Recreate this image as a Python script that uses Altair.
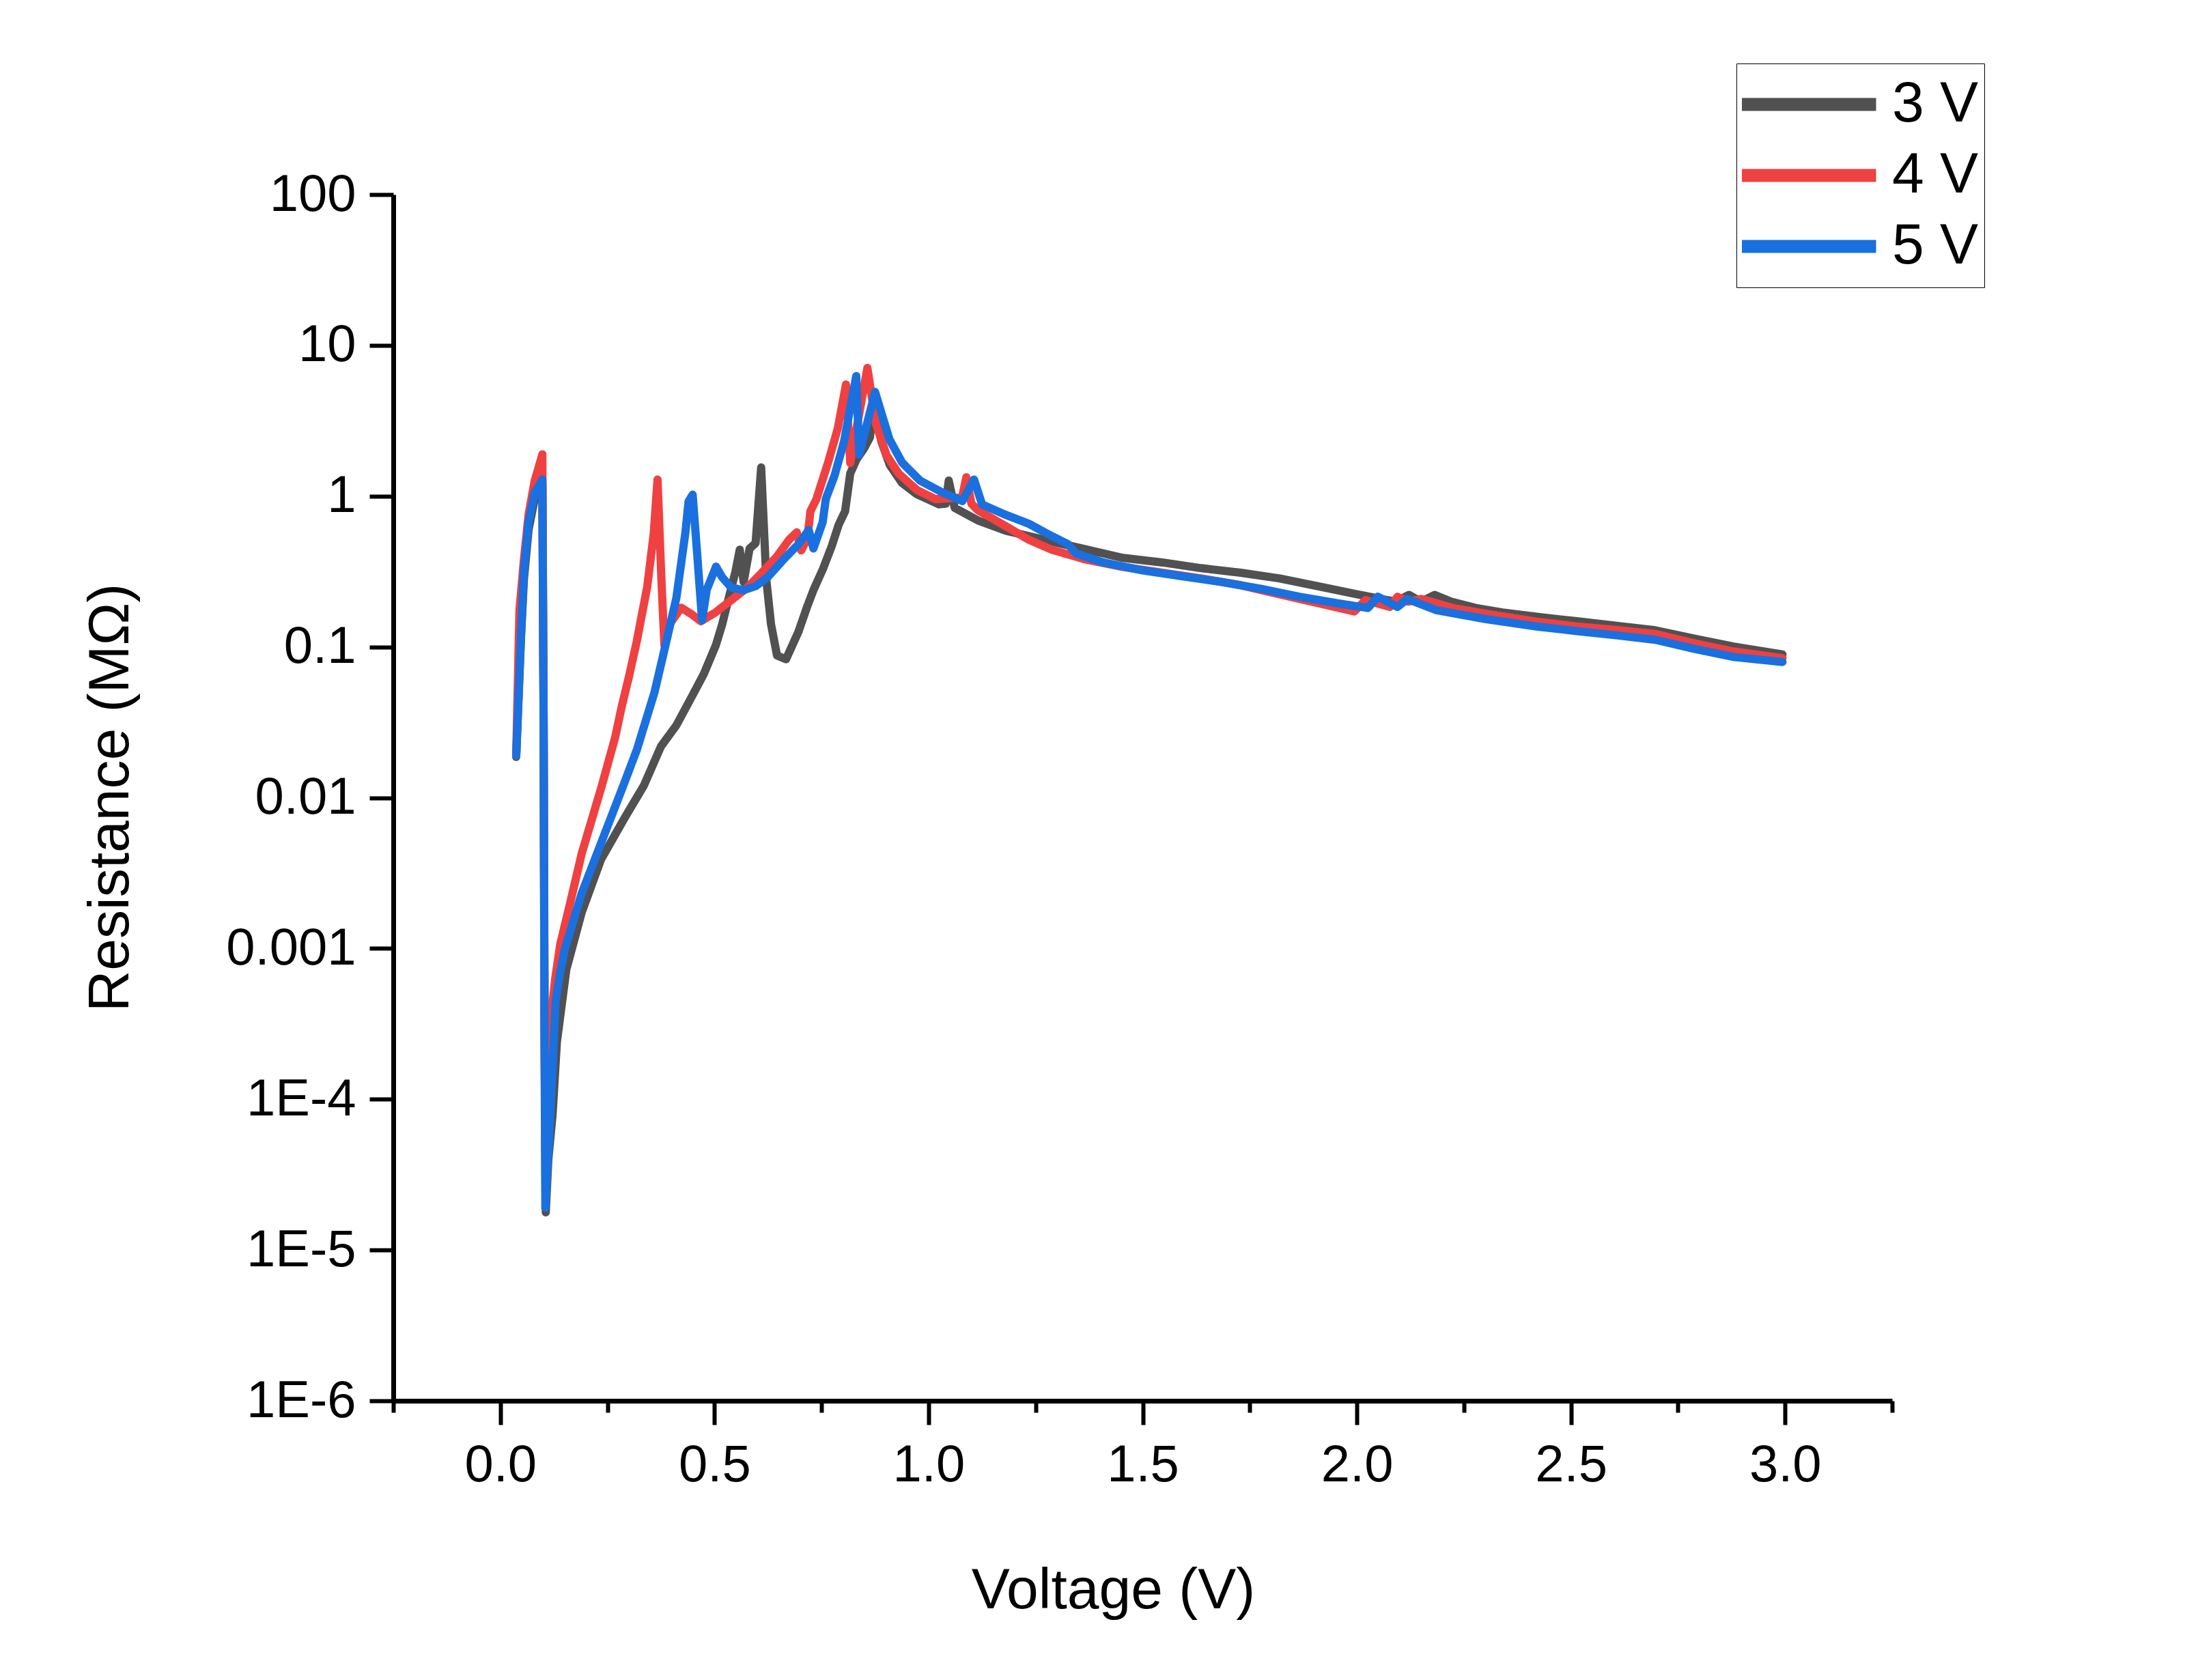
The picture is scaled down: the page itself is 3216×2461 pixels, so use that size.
import altair as alt
import pandas as pd

# ---- data (voltage in V, log10 of resistance in MOhm) ----
series_names = ["3 V", "4 V", "5 V"]
series_colors = ["#515151", "#EF4141", "#1A70DE"]

pts_3v = [(0.037,-1.73),(0.048,-0.95),(0.055,-0.55),(0.066,-0.22),(0.080,-0.02),(0.098,0.08),
          (0.101,-1.5),(0.103,-3.5),(0.106,-4.75),(0.112,-4.4),(0.122,-4.1),(0.132,-3.62),
          (0.154,-3.14),(0.19,-2.76),(0.235,-2.41),(0.291,-2.13),(0.335,-1.92),(0.375,-1.66),
          (0.411,-1.52),(0.447,-1.33),(0.475,-1.18),(0.503,-0.99),(0.518,-0.85),(0.532,-0.69),
          (0.549,-0.50),(0.559,-0.355),(0.568,-0.57),(0.582,-0.347),(0.596,-0.312),(0.609,0.19),
          (0.621,-0.554),(0.632,-0.849),(0.646,-1.057),(0.667,-1.082),(0.696,-0.90),(0.717,-0.728),
          (0.731,-0.624),(0.753,-0.485),(0.774,-0.33),(0.790,-0.19),(0.805,-0.10),(0.817,0.15),
          (0.831,0.24),(0.850,0.32),(0.863,0.39),(0.872,0.60),(0.89,0.36),(0.909,0.208),
          (0.938,0.087),(0.973,0.012),(1.024,-0.055),(1.040,-0.05),(1.047,0.103),(1.061,-0.078),
          (1.115,-0.161),(1.18,-0.229),(1.271,-0.29),(1.363,-0.35),(1.454,-0.41),(1.546,-0.44),
          (1.637,-0.478),(1.729,-0.508),(1.82,-0.546),(1.912,-0.599),(2.003,-0.652),(2.09,-0.70),
          (2.122,-0.655),(2.15,-0.70),(2.182,-0.655),(2.22,-0.70),(2.278,-0.742),(2.34,-0.772),
          (2.42,-0.80),(2.514,-0.83),(2.606,-0.86),(2.697,-0.89),(2.789,-0.946),(2.88,-0.998),
          (2.994,-1.05)]

pts_4v = [(0.037,-1.72),(0.0445,-0.76),(0.055,-0.42),(0.066,-0.12),(0.080,0.10),(0.098,0.277),
          (0.101,-1.5),(0.104,-4.0),(0.107,-4.3),(0.112,-3.9),(0.117,-3.5),(0.128,-3.2),
          (0.14,-2.97),(0.162,-2.71),(0.19,-2.37),(0.237,-1.92),(0.268,-1.60),(0.283,-1.40),
          (0.300,-1.20),(0.318,-0.97),(0.343,-0.60),(0.358,-0.25),(0.367,0.11),(0.376,-0.55),
          (0.383,-0.99),(0.395,-0.85),(0.422,-0.74),(0.445,-0.78),(0.468,-0.83),(0.503,-0.77),
          (0.539,-0.69),(0.575,-0.61),(0.61,-0.51),(0.646,-0.40),(0.674,-0.29),(0.692,-0.24),
          (0.7025,-0.36),(0.717,-0.28),(0.724,-0.10),(0.738,-0.02),(0.766,0.23),(0.788,0.45),
          (0.807,0.74),(0.817,0.22),(0.835,0.5),(0.857,0.85),(0.877,0.48),(0.902,0.27),
          (0.93,0.15),(0.973,0.04),(1.016,-0.02),(1.061,-0.011),(1.078,-0.01),(1.088,0.125),
          (1.100,-0.05),(1.115,-0.094),(1.18,-0.199),(1.2345,-0.29),(1.289,-0.357),(1.363,-0.418),
          (1.454,-0.47),(1.546,-0.508),(1.637,-0.546),(1.729,-0.591),(1.82,-0.652),(1.912,-0.712),
          (1.994,-0.765),(2.02,-0.69),(2.077,-0.735),(2.095,-0.667),(2.12,-0.70),(2.15,-0.682),
          (2.224,-0.742),(2.3,-0.78),(2.42,-0.833),(2.51,-0.863),(2.6,-0.886),(2.7,-0.916),
          (2.79,-0.977),(2.88,-1.03),(2.994,-1.075)]

pts_5v = [(0.037,-1.72),(0.048,-0.935),(0.055,-0.50),(0.066,-0.17),(0.080,0.02),(0.098,0.11),
          (0.101,-1.5),(0.103,-3.5),(0.105,-4.72),(0.113,-4.3),(0.12,-3.9),(0.129,-3.35),
          (0.14,-3.15),(0.151,-3.0),(0.19,-2.634),(0.246,-2.221),(0.287,-1.92),(0.319,-1.68),
          (0.36,-1.30),(0.383,-1.02),(0.411,-0.675),(0.432,-0.243),(0.4395,-0.035),(0.449,0.01),
          (0.46,-0.40),(0.471,-0.823),(0.482,-0.62),(0.5035,-0.468),(0.5176,-0.537),(0.539,-0.606),
          (0.5676,-0.624),(0.596,-0.597),(0.6245,-0.537),(0.66,-0.424),(0.6957,-0.32),(0.72,-0.225),
          (0.731,-0.347),(0.7526,-0.173),(0.76,-0.018),(0.7806,0.138),(0.8025,0.363),(0.831,0.796),
          (0.838,0.276),(0.875,0.691),(0.891,0.54),(0.909,0.374),(0.938,0.223),(0.98,0.103),
          (1.03,0.027),(1.079,-0.033),(1.106,0.11),(1.125,-0.056),(1.18,-0.124),(1.2345,-0.184),
          (1.289,-0.267),(1.326,-0.32),(1.344,-0.38),(1.408,-0.44),(1.50,-0.493),(1.591,-0.531),
          (1.683,-0.569),(1.775,-0.614),(1.866,-0.667),(1.957,-0.712),(2.026,-0.742),(2.049,-0.667),
          (2.095,-0.735),(2.118,-0.682),(2.186,-0.757),(2.3,-0.815),(2.42,-0.865),(2.514,-0.895),
          (2.606,-0.923),(2.697,-0.953),(2.789,-1.014),(2.88,-1.067),(2.994,-1.10)]

y_tick_values = [1e-6, 1e-5, 1e-4, 0.001, 0.01, 0.1, 1, 10, 100]
x_tick_values = [-0.25, 0.0, 0.25, 0.5, 0.75, 1.0, 1.25, 1.5, 1.75, 2.0, 2.25, 2.5, 2.75, 3.0, 3.25]

rows = []
for name, pts in zip(series_names, [pts_3v, pts_4v, pts_5v]):
    for i, (v, lg) in enumerate(pts):
        rows.append({"series": name, "V": v, "R": 10 ** lg, "order": i})
df = pd.DataFrame(rows)

FONT = "Liberation Sans"
W, H = 2195, 1767

major_test = "datum.value >= 0 && datum.value <= 3 && abs(datum.value*2 - round(datum.value*2)) < 0.001"

x_axis = alt.Axis(
    values=x_tick_values,
    labelExpr="(" + major_test + ") ? format(datum.value, '.1f') : ''",
    tickSize={"condition": {"test": major_test, "value": 35}, "value": 17},
    tickWidth=6, tickColor="black",
    domainWidth=7, domainColor="black",
    labelFont=FONT, labelFontSize=76, labelColor="black", labelPadding=22,
    labelOverlap=False, labelFlush=False, labelLimit=400,
    grid=False,
    title="Voltage (V)", titleFont=FONT, titleFontSize=84, titleFontWeight="normal",
    titleColor="black", titleX=1054, titleY=303, titleBaseline="alphabetic", titleAlign="center",
)

y_axis = alt.Axis(
    values=y_tick_values,
    labelExpr="datum.value >= 0.001 ? '' + datum.value : '1E-' + format(-log(datum.value)/LN10, '.0f')",
    tickSize=35, tickWidth=6, tickColor="black",
    domainWidth=7, domainColor="black",
    labelFont=FONT, labelFontSize=76, labelColor="black", labelPadding=20,
    labelOverlap=False, labelFlush=False, labelLimit=600,
    grid=False,
    title="Resistance (MΩ)", titleFont=FONT, titleFontSize=84, titleFontWeight="normal",
    titleColor="black", titleX=-389, titleY=883, titleBaseline="alphabetic", titleAlign="center",
    titleAngle=270,
)

chart = alt.Chart(df).mark_line(
    strokeWidth=12, strokeCap="round", strokeJoin="round"
).encode(
    x=alt.X("V:Q", scale=alt.Scale(domain=[-0.25, 3.25], nice=False, zero=False), axis=x_axis),
    y=alt.Y("R:Q", scale=alt.Scale(type="log", domain=[1e-6, 100], nice=False), axis=y_axis),
    color=alt.Color("series:N",
                    scale=alt.Scale(domain=series_names, range=series_colors),
                    legend=alt.Legend(
                        title=None, orient="none", legendX=1967, legendY=-192,
                        symbolType="stroke", symbolSize=40000, symbolStrokeWidth=19,
                        symbolOffset=-13,
                        labelFont=FONT, labelFontSize=84, labelColor="black",
                        labelOffset=14, padding=8, rowPadding=0, clipHeight=104,
                        strokeColor="black", fillColor="white", labelLimit=600,
                    )),
    order=alt.Order("order:Q"),
).properties(
    width=W, height=H,
    autosize=alt.AutoSizeParams(type="none"),
    padding={"left": 568, "top": 277, "right": 400, "bottom": 380},
    background="white",
).configure_view(stroke=None)

chart.save("out.html", embed_options={"renderer": "svg", "actions": False})
